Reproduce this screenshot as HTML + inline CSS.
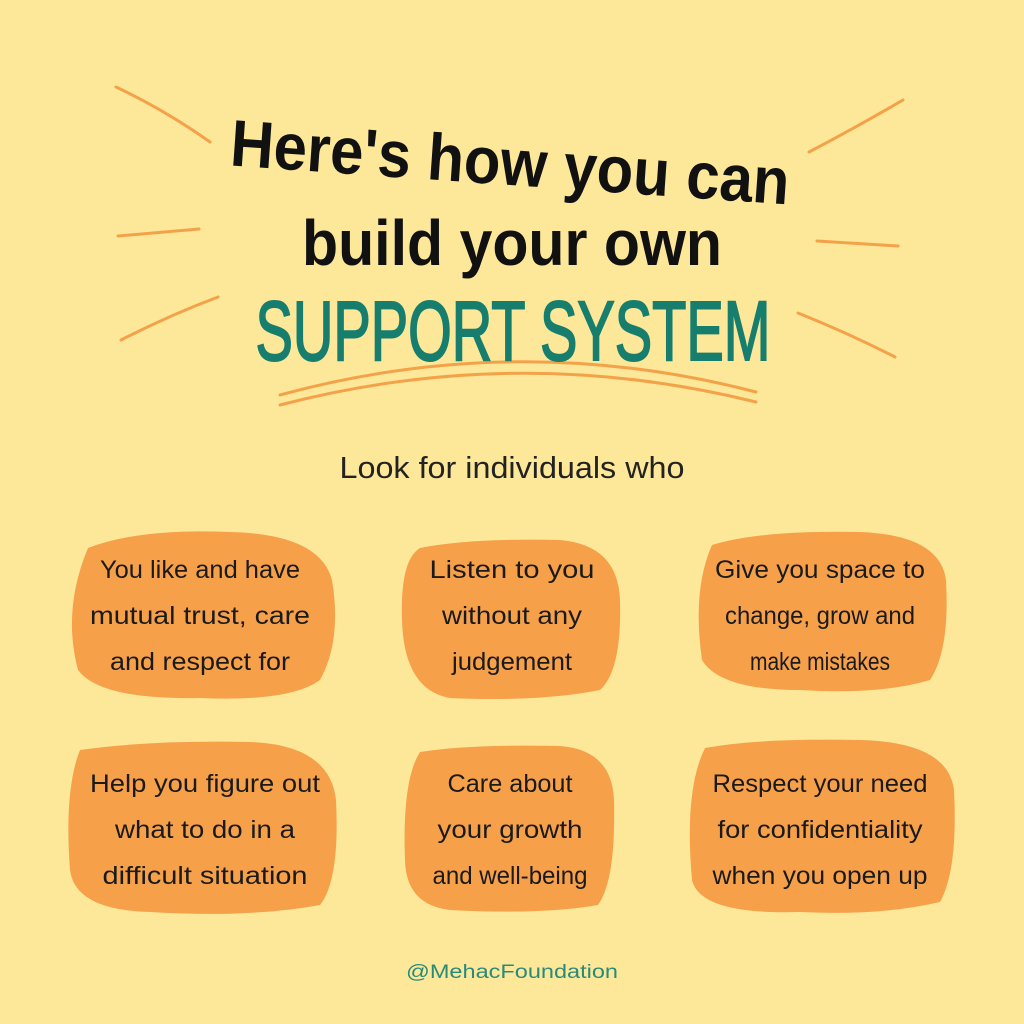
<!DOCTYPE html>
<html><head><meta charset="utf-8"><style>
html,body{margin:0;padding:0;background:#fde899;}
svg{display:block}
</style></head><body>
<svg width="1024" height="1024" viewBox="0 0 1024 1024" xmlns="http://www.w3.org/2000/svg">
<rect width="1024" height="1024" fill="#fde899"/>
<g stroke="#f4a24a" stroke-width="3" fill="none" stroke-linecap="round">
<path d="M116,87 Q165,110 210,142"/>
<path d="M118,236 L199,229"/>
<path d="M121,340 Q170,315 218,297"/>
<path d="M903,100 Q855,128 809,152"/>
<path d="M817,241 L898,246"/>
<path d="M798,313 Q848,333 895,357"/>
<path d="M280,395 Q518,330 756,392"/>
<path d="M280,405 Q518,343 756,402"/>
</g>
<g font-family="Liberation Sans, sans-serif" font-weight="bold" fill="#111" text-anchor="middle">
<text x="510" y="185" font-size="66" transform="rotate(4 510 165)" textLength="560" lengthAdjust="spacingAndGlyphs">Here's how you can</text>
<text x="512" y="265" font-size="64" textLength="420" lengthAdjust="spacingAndGlyphs">build your own</text>
</g>
<text x="513" y="360" font-family="Liberation Sans, sans-serif" font-size="84" fill="#177e6e" stroke="#177e6e" stroke-width="2" text-anchor="middle" textLength="515" lengthAdjust="spacingAndGlyphs">SUPPORT SYSTEM</text>
<text x="512" y="478" font-family="Liberation Sans, sans-serif" font-size="31" fill="#222" text-anchor="middle" textLength="345" lengthAdjust="spacingAndGlyphs">Look for individuals who</text>
<g fill="#f6a04a">
<path d="M88,548 Q140,528 230,532 Q320,534 332,580 Q342,640 320,680 Q290,702 200,698 Q100,700 78,670 Q62,610 88,548Z"/>
<path d="M420,548 Q470,538 560,540 Q618,545 620,600 Q622,670 600,690 Q540,702 450,698 Q404,690 402,620 Q400,560 420,548Z"/>
<path d="M712,545 Q760,530 860,532 Q940,535 946,580 Q950,650 930,680 Q880,695 800,690 Q720,690 702,660 Q692,590 712,545Z"/>
<path d="M80,750 Q150,740 250,742 Q330,745 336,800 Q340,880 320,905 Q250,918 150,912 Q75,910 70,870 Q64,790 80,750Z"/>
<path d="M420,752 Q470,744 560,746 Q612,750 614,800 Q616,880 598,905 Q540,915 450,910 Q406,905 405,860 Q402,780 420,752Z"/>
<path d="M705,748 Q760,738 860,740 Q948,742 954,790 Q958,870 940,902 Q880,916 800,912 Q700,915 692,880 Q684,790 705,748Z"/>
</g>
<g font-family="Liberation Sans, sans-serif" font-size="25" fill="#1a1a1a" text-anchor="middle">
<text x="200" y="578" textLength="200" lengthAdjust="spacingAndGlyphs">You like and have</text>
<text x="200" y="624" textLength="220" lengthAdjust="spacingAndGlyphs">mutual trust, care</text>
<text x="200" y="670" textLength="180" lengthAdjust="spacingAndGlyphs">and respect for</text>
<text x="512" y="578" textLength="165" lengthAdjust="spacingAndGlyphs">Listen to you</text>
<text x="512" y="624" textLength="140" lengthAdjust="spacingAndGlyphs">without any</text>
<text x="512" y="670" textLength="120" lengthAdjust="spacingAndGlyphs">judgement</text>
<text x="820" y="578" textLength="210" lengthAdjust="spacingAndGlyphs">Give you space to</text>
<text x="820" y="624" textLength="190" lengthAdjust="spacingAndGlyphs">change, grow and</text>
<text x="820" y="670" textLength="140" lengthAdjust="spacingAndGlyphs">make mistakes</text>
<text x="205" y="792" textLength="230" lengthAdjust="spacingAndGlyphs">Help you figure out</text>
<text x="205" y="838" textLength="180" lengthAdjust="spacingAndGlyphs">what to do in a</text>
<text x="205" y="884" textLength="205" lengthAdjust="spacingAndGlyphs">difficult situation</text>
<text x="510" y="792" textLength="125" lengthAdjust="spacingAndGlyphs">Care about</text>
<text x="510" y="838" textLength="145" lengthAdjust="spacingAndGlyphs">your growth</text>
<text x="510" y="884" textLength="155" lengthAdjust="spacingAndGlyphs">and well-being</text>
<text x="820" y="792" textLength="215" lengthAdjust="spacingAndGlyphs">Respect your need</text>
<text x="820" y="838" textLength="205" lengthAdjust="spacingAndGlyphs">for confidentiality</text>
<text x="820" y="884" textLength="215" lengthAdjust="spacingAndGlyphs">when you open up</text>
</g>
<text x="512" y="978" font-family="Liberation Sans, sans-serif" font-size="19" fill="#2a8a7a" text-anchor="middle" textLength="212" lengthAdjust="spacingAndGlyphs">@MehacFoundation</text>
</svg>
</body></html>
